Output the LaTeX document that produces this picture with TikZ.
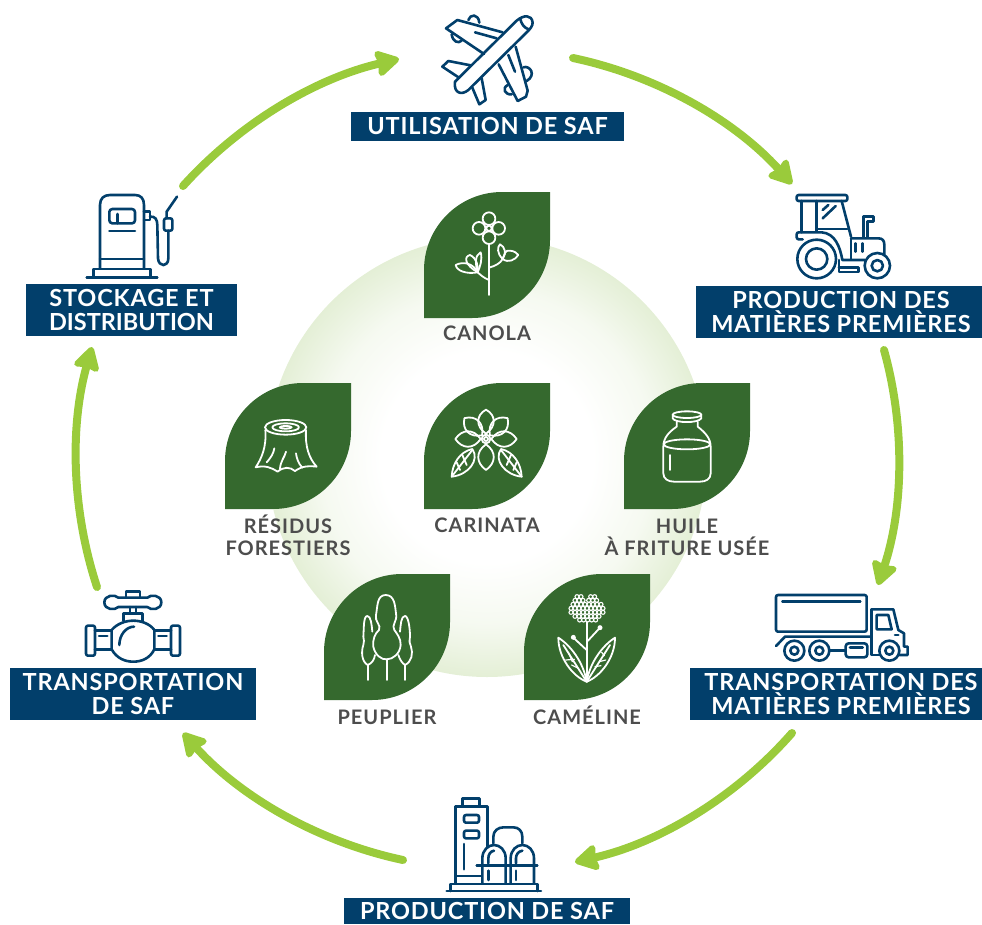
\documentclass[tikz,border=0pt]{standalone}
\usepackage{fontspec}
\setmainfont{Lato}
\usetikzlibrary{arrows.meta}
\definecolor{navy}{HTML}{023F6B}
\definecolor{leafgreen}{HTML}{35692E}
\definecolor{cyclegreen}{HTML}{9ACB3B}
\definecolor{labelgray}{HTML}{4D4D4D}
\definecolor{glowedge}{HTML}{E4EFD6}
\pgfdeclareradialshading{glow}{\pgfpoint{0bp}{0bp}}{color(0bp)=(white); color(12bp)=(white); color(19bp)=(glowedge!35!white); color(25bp)=(glowedge); color(50bp)=(glowedge)}
\tikzset{
  zm/.style n args={2}{shift={(#1pt,-#2pt)},x=0.33333pt,y=-0.33333pt},
  navyicon/.style={draw=navy,line width=2.6pt,line cap=round,line join=round,fill=none},
  whiteicon/.style={draw=white,line width=1.8pt,line cap=round,line join=round,fill=none},
  stage/.style={fill=navy,text=white,font=\fontsize{23.5}{24.5}\selectfont\bfseries\addfontfeatures{LetterSpace=3.5},align=center,inner sep=0pt},
  crop/.style={text=labelgray,font=\fontsize{20}{22}\selectfont\bfseries\addfontfeatures{LetterSpace=5},align=center,inner sep=0pt},
  cycle/.style={draw=cyclegreen,line width=8pt,line cap=round,-{Stealth[length=27pt,width=30pt,inset=3pt,round=false]}},
}
\newcommand{\leafat}[2]{\fill[leafgreen,shift={(#1pt,-#2pt)}] (78,0) -- (126,0) -- (126,48) .. controls (126,91) and (91,126) .. (48,126) -- (0,126) -- (0,78) .. controls (0,35) and (35,0) .. (78,0) -- cycle;}
\begin{document}
\begin{tikzpicture}[x=1pt,y=-1pt]
\useasboundingbox (0,0) rectangle (982,924);
% glow
\shade[shading=glow] (487,457) circle (220);
% leaves
\leafat{424}{192}\leafat{225}{383}\leafat{424}{383}\leafat{624}{383}\leafat{324}{574}\leafat{524}{574}
% stage boxes
\node[stage,minimum width=273pt,minimum height=29pt] (utilisation) at (487.5,126) {UTILISATION DE SAF};
\node[stage,minimum width=286pt,minimum height=52pt] (production) at (839,312) {\hspace*{4pt}PRODUCTION DES\\\hspace*{4pt}MATIÈRES PREMIÈRES};
\node[stage,minimum width=292pt,minimum height=52pt] (transport) at (836,694) {\hspace*{10pt}TRANSPORTATION DES\\\hspace*{10pt}MATIÈRES PREMIÈRES};
\node[stage,minimum width=286pt,minimum height=26pt] (safprod) at (487,911) {PRODUCTION DE SAF};
\node[stage,minimum width=246pt,minimum height=52pt] (saftrans) at (133,694) {TRANSPORTATION\\DE SAF};
\node[stage,minimum width=211pt,minimum height=52pt] (stockage) at (131.5,310) {STOCKAGE ET\\{\addfontfeatures{LetterSpace=0}DISTRIBUTION}};
% crop labels
\node[crop,anchor=base] (canola) at (487,340.5) {CANOLA};
\node[crop] (residus) at (288,535.5) {RÉSIDUS\\FORESTIERS};
\node[crop,anchor=base] (carinata) at (487,532.5) {CARINATA};
\node[crop] (huile) at (687,537) {HUILE\\À FRITURE USÉE};
\node[crop,anchor=base] (peuplier) at (387,724.5) {PEUPLIER};
\node[crop,anchor=base] (cameline) at (587,724.5) {CAMÉLINE};
% cycle arrows
\coordinate (a1s) at (183,186); \coordinate (a1e) at (399,59);
\coordinate (a2s) at (573,58); \coordinate (a2e) at (792,184);
\coordinate (a3s) at (884,350); \coordinate (a3e) at (878,585);
\coordinate (a4s) at (792,733); \coordinate (a4e) at (575,862);
\coordinate (a5s) at (403,860); \coordinate (a5e) at (183,733);
\coordinate (a6s) at (97,587); \coordinate (a6e) at (92,347);
\draw[cycle] (a1s) to[bend left=17.5,looseness=.87] (a1e);
\draw[cycle] (a2s) to[bend left=18,looseness=.87] (a2e);
\draw[cycle] (a3s) to[bend left=17,looseness=.87] (a3e);
\draw[cycle] (a4s) to[bend left=18,looseness=.87] (a4e);
\draw[cycle] (a5s) to[bend left=18,looseness=.87] (a5e);
\draw[cycle] (a6s) to[bend left=17,looseness=.87] (a6e);
% plane
\begin{scope}[zm={340}{0},navyicon]
\draw (345,245) -- (530,62) .. controls (550,45) and (575,42) .. (578,68) .. controls (578,78) and (570,88) .. (560,97) -- (385,270) .. controls (365,287) and (340,280) .. (345,245) -- cycle;
\draw (540,55) .. controls (545,72) and (550,82) .. (566,88);
\draw (488,97) -- (352,60) -- (318,85) -- (432,162);
\draw (405,97) -- (470,115);
\draw (385,60) .. controls (390,42) and (415,40) .. (418,68);
\draw (335,103) .. controls (338,125) and (355,132) .. (365,122);
\draw (392,196) -- (325,183) -- (307,200) -- (357,233);
\draw (397,263) -- (418,313) -- (437,300) -- (425,235);
\draw (527,140) -- (563,272) -- (558,290) -- (533,303) -- (476,193);
\draw (505,165) -- (525,215);
\draw (550,202) .. controls (570,195) and (590,225) .. (560,243);
\draw (503,255) .. controls (485,265) and (495,285) .. (515,283);
\end{scope}
% tractor
\begin{scope}[zm={690}{180},navyicon]
\draw[rounded corners=2pt] (320,45) rectangle (472,63);
\draw (335,63) -- (335,155);
\draw (380,63) -- (380,155);
\draw (455,63) -- (483,170);
\draw (380,147) -- (472,147);
\draw (398,90) -- (415,75);
\draw (398,115) -- (437,78);
\draw[rounded corners=2pt] (335,157) -- (320,157) -- (320,178) -- (338,178);
\draw (335,157) -- (395,157) .. controls (435,160) and (450,200) .. (457,240) -- (525,240);
\draw (483,175) -- (565,175) .. controls (578,175) and (583,182) .. (583,195) -- (583,225);
\draw (483,175) -- (483,238);
\draw (497,190) -- (497,215);
\draw (518,190) -- (518,215);
\draw (520,172) -- (520,110) -- (550,110) -- (550,125) -- (533,125) -- (533,172);
\draw (447,240) -- (447,276) -- (505,276) -- (505,262) -- (447,262);
\draw (380,237) circle (58);
\draw (380,237) circle (32);
\draw (562,257) circle (38);
\draw (562,257) circle (17);
\end{scope}
% truck
\begin{scope}[zm={680}{580},navyicon]
\draw[rounded corners=2pt] (288,45) rectangle (560,155);
\draw (307,65) -- (541,65);
\draw (288,198) -- (315,170) -- (575,170);
\draw (575,88) -- (640,88) -- (655,150) -- (672,160) -- (672,200) -- (683,200) -- (683,225) -- (658,225);
\draw (575,88) -- (575,225) -- (598,225);
\draw (590,105) -- (625,105) -- (635,148) -- (590,148) -- cycle;
\draw (645,165) -- (655,165);
\foreach \xc in {343,418,628}{\draw (\xc,212) circle (30); \draw (\xc,212) circle (12);}
\draw[rounded corners=3pt] (497,190) rectangle (562,232);
\draw (510,202) -- (548,202);
\draw (448,212) -- (497,212);
\end{scope}
% refinery
\begin{scope}[zm={340}{780},navyicon]
\draw (347,310) -- (347,80) -- (442,80) -- (442,200);
\draw (368,80) -- (368,55) -- (418,55) -- (418,80);
\draw[rounded corners=2pt] (372,105) rectangle (417,128);
\draw[rounded corners=2pt] (372,152) rectangle (417,175);
\draw (372,192) -- (372,268);
\draw (347,288) -- (425,288);
\draw (460,190) -- (460,170) .. controls (460,152) and (475,142) .. (490,142) -- (520,142) .. controls (535,142) and (547,152) .. (547,170) -- (547,190);
\draw (427,310) -- (427,235) .. controls (427,210) and (445,195) .. (462,195) .. controls (480,195) and (497,210) .. (497,235) -- (497,310);
\draw (512,310) -- (512,235) .. controls (512,210) and (530,195) .. (547,195) .. controls (565,195) and (582,210) .. (582,235) -- (582,310);
\draw (445,250) -- (445,235) .. controls (445,222) and (452,214) .. (462,212);
\draw (528,250) -- (528,235) .. controls (528,222) and (536,214) .. (547,212);
\draw (410,256) -- (592,256);
\draw (445,272) -- (445,300);
\draw (528,272) -- (528,300);
\draw (332,333) -- (332,312) -- (592,312) -- (592,333);
\draw (320,333) -- (603,333);
\end{scope}
% valve
\begin{scope}[zm={0}{580},navyicon]
\draw (355,53) .. controls (345,42) and (313,45) .. (313,67) .. controls (313,90) and (345,92) .. (355,81) -- (442,81) .. controls (452,92) and (484,90) .. (484,67) .. controls (484,45) and (452,42) .. (442,53) -- cycle;
\draw (378,53) -- (378,35) -- (420,35) -- (420,53);
\draw (390,81) -- (390,100);
\draw (408,81) -- (408,100);
\draw (370,122) -- (370,100) -- (427,100) -- (427,122);
\draw (335,150) .. controls (350,132) and (375,122) .. (400,122) .. controls (425,122) and (450,132) .. (463,150) -- (463,208) .. controls (450,235) and (425,245) .. (400,245) .. controls (375,245) and (350,235) .. (335,208) -- cycle;
\draw[rounded corners=2pt] (258,137) rectangle (285,227);
\draw[rounded corners=2pt] (513,137) rectangle (540,227);
\draw (285,152) -- (335,152);
\draw (285,208) -- (335,208);
\draw (463,152) -- (513,152);
\draw (463,208) -- (513,208);
\draw (297,168) -- (322,168);
\draw (475,168) -- (500,168);
\draw (358,195) .. controls (358,165) and (378,140) .. (402,140);
\end{scope}
% pump
\begin{scope}[zm={20}{180},navyicon]
\draw (240,265) -- (240,75) .. controls (240,55) and (252,45) .. (270,45) -- (345,45) .. controls (362,45) and (372,55) .. (372,75) -- (372,265);
\draw[rounded corners=3pt] (268,87) rectangle (345,130);
\draw (292,102) -- (292,130);
\draw (268,153) -- (345,153);
\draw (240,237) -- (372,237);
\draw (220,290) -- (220,267) -- (392,267) -- (392,290);
\draw (200,292) -- (412,292);
\draw (372,95) -- (390,95) -- (390,120) -- (372,120);
\draw (390,110) .. controls (405,108) and (412,118) .. (412,135) -- (414,235) .. controls (416,262) and (445,262) .. (445,235) -- (445,152);
\draw[rounded corners=2pt] (432,115) rectangle (457,152);
\draw (440,115) -- (440,95) -- (471,50);
\end{scope}
% canola
\begin{scope}[zm={410}{185},whiteicon]
\draw (237,180) -- (237,330);
\draw (237,101) circle (19);
\draw (237,158) circle (19);
\draw (207,130) circle (19);
\draw (266,130) circle (19);
\draw (237,130) circle (8);
\draw (237,285) .. controls (220,278) and (212,270) .. (203,262);
\draw (237,248) .. controls (258,242) and (270,235) .. (278,222);
\draw (203,262) .. controls (170,268) and (140,258) .. (137,240) .. controls (160,228) and (190,235) .. (203,262);
\draw (203,262) .. controls (165,240) and (160,215) .. (180,210) .. controls (200,220) and (205,240) .. (203,262);
\draw (203,262) .. controls (195,235) and (195,210) .. (212,202) .. controls (218,225) and (210,245) .. (203,262);
\draw (278,222) .. controls (260,205) and (262,185) .. (270,178) .. controls (285,185) and (290,205) .. (278,222);
\draw (278,222) .. controls (285,205) and (285,195) .. (300,197) .. controls (315,198) and (320,205) .. (325,210) .. controls (315,225) and (295,235) .. (278,222);
\end{scope}
% stump
\begin{scope}[zm={215}{375},whiteicon]
\draw (212,157) ellipse [x radius=62,y radius=22];
\draw (212,157) ellipse [x radius=40,y radius=12];
\draw (212,157) ellipse [x radius=18,y radius=4];
\draw (151,165) .. controls (155,215) and (140,250) .. (122,277) .. controls (150,270) and (170,278) .. (188,290) .. controls (205,275) and (225,275) .. (240,288) .. controls (262,272) and (285,272) .. (305,275) .. controls (282,250) and (270,215) .. (273,165);
\draw (195,283) .. controls (195,260) and (210,245) .. (213,230);
\draw (262,278) .. controls (250,265) and (245,250) .. (243,235);
\draw (155,262) .. controls (170,245) and (175,235) .. (178,220);
\end{scope}
% carinata
\begin{scope}[zm={415}{375},whiteicon]
\foreach \ang/\len in {90/88,44/90,0/92,-90/93,180/92,136/90}{
  \draw ({213+16*cos(\ang)},{192-16*sin(\ang)})
    .. controls ({213+38*cos(\ang)-32*sin(\ang)},{192-38*sin(\ang)-32*cos(\ang)}) and ({213+72*cos(\ang)-30*sin(\ang)},{192-72*sin(\ang)-30*cos(\ang)})
    .. ({213+\len*cos(\ang)},{192-\len*sin(\ang)})
    .. controls ({213+72*cos(\ang)+30*sin(\ang)},{192-72*sin(\ang)+30*cos(\ang)}) and ({213+38*cos(\ang)+32*sin(\ang)},{192-38*sin(\ang)+32*cos(\ang)})
    .. cycle;
}
\draw[fill=leafgreen] (213,192) circle (13);
\draw (213,192) circle (6);
\draw (110,305) .. controls (112,265) and (135,230) .. (172,222) .. controls (195,255) and (160,300) .. (110,305) -- cycle;
\draw (110,305) -- (172,225);
\draw (125,262) -- (135,285);
\draw (142,240) -- (155,270);
\draw (320,305) .. controls (318,265) and (295,230) .. (258,222) .. controls (235,255) and (270,300) .. (320,305) -- cycle;
\draw (320,305) -- (258,225);
\draw (305,262) -- (295,285);
\draw (288,240) -- (275,270);
\end{scope}
% jar
\begin{scope}[zm={600}{375},whiteicon]
\draw (261,119) ellipse [x radius=43,y radius=10];
\draw (218,119) -- (218,130) .. controls (225,145) and (295,145) .. (304,130) -- (304,119);
\draw (230,140) -- (230,155) .. controls (205,172) and (190,190) .. (190,215) -- (190,295) .. controls (190,312) and (205,320) .. (222,320) -- (300,320) .. controls (318,320) and (332,312) .. (332,295) -- (332,215) .. controls (332,190) and (315,172) .. (293,155) -- (293,140);
\draw (261,208) ellipse [x radius=70,y radius=15];
\draw (210,240) -- (210,285);
\end{scope}
% poplars
\begin{scope}[zm={315}{565},whiteicon]
\draw (212,90) .. controls (185,90) and (188,125) .. (183,150) .. controls (178,170) and (200,180) .. (192,195) .. controls (180,205) and (172,225) .. (175,245) .. controls (180,270) and (200,285) .. (215,283) .. controls (235,283) and (255,265) .. (257,240) .. controls (258,220) and (245,205) .. (238,195) .. controls (228,180) and (248,170) .. (243,145) .. controls (240,125) and (240,90) .. (212,90) -- cycle;
\draw (215,283) -- (215,345);
\draw (172,200) .. controls (170,180) and (168,153) .. (157,153) .. controls (145,153) and (147,190) .. (145,215) .. controls (145,225) and (150,230) .. (145,240) .. controls (138,260) and (140,290) .. (158,300) .. controls (170,295) and (178,285) .. (180,270);
\draw (158,300) -- (158,345);
\draw (255,200) .. controls (257,180) and (258,153) .. (270,153) .. controls (280,153) and (285,190) .. (285,215) .. controls (283,230) and (283,235) .. (288,245) .. controls (295,265) and (290,290) .. (270,300) .. controls (262,295) and (255,285) .. (250,270);
\draw (270,300) -- (270,345);
\end{scope}
% camelina
\begin{scope}[zm={515}{565},whiteicon]
\draw (215,172) -- (215,350);
\draw (215,255) -- (175,218);
\draw (218,228) -- (255,188);
\fill[white] (175,217) circle (7.5);
\fill[white] (255,188) circle (7.5);
\draw (215,350) .. controls (175,335) and (130,280) .. (130,218) .. controls (165,240) and (205,290) .. (215,350) -- cycle;
\draw (145,240) -- (215,350);
\draw (215,350) .. controls (255,335) and (300,280) .. (300,218) .. controls (265,240) and (225,290) .. (215,350) -- cycle;
\draw (285,240) -- (215,350);
\foreach \a/\b/\c/\d in {152/285/178/283,160/262/172/290,170/300/190/310,260/262/268/272,253/290/272/285,240/305/258/302}{\draw[line width=1.2pt] (\a,\b) -- (\c,\d);}
\begin{scope}[line width=1.1pt]
\foreach \yy/\xlist in {95/{186,198,227,239},106/{180,192,204,221,233,245},118/{174,186,198,210,222,234,246,258},130/{168,180,192,204,216,228,240,252,264},142/{168,180,192,204,216,228,240,252,264},154/{180,192,204,216,228,240,252},165/{194,206,218,230,242}}{
  \foreach \xx in \xlist {\draw (\xx,\yy) circle (6);}
}
\end{scope}
\end{scope}
\end{tikzpicture}
\end{document}
